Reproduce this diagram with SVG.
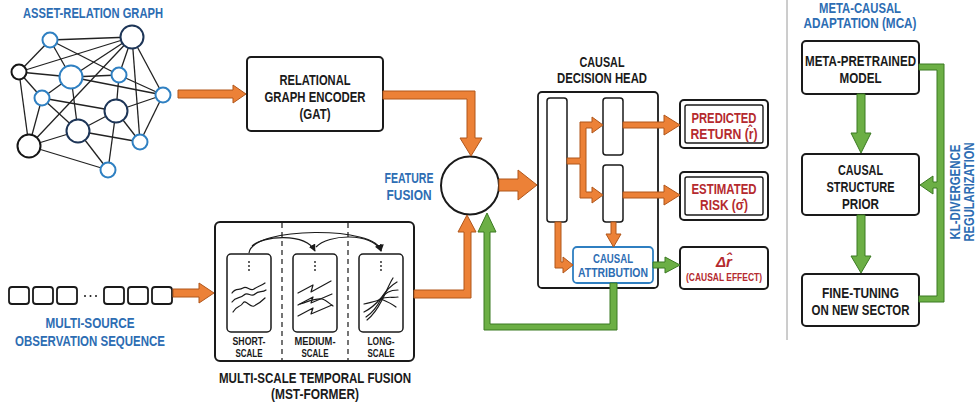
<svg xmlns="http://www.w3.org/2000/svg" width="980" height="409" viewBox="0 0 980 409">
<style>
.t{font-family:"Liberation Sans",Arial,sans-serif;font-weight:bold;text-anchor:middle;fill:#1a1a1a}
.blue{fill:#2d6db3}
.red{fill:#b52a2e}
.box{fill:#fff;stroke:#1a1a1a;stroke-width:2}
.thin{fill:#fff;stroke:#1a1a1a;stroke-width:1.5}
.or{fill:#ec8137;stroke:#b0561b;stroke-width:1;stroke-linejoin:round}
.gr{fill:#6caf45;stroke:#3b7a22;stroke-width:1;stroke-linejoin:round}
.edge{stroke:#222;stroke-width:1.3}
.nb{fill:#fff;stroke:#2f80c2;stroke-width:2}
.nk{fill:#fff;stroke:#151515;stroke-width:2}
.nn{fill:#fff;stroke:#1d3557;stroke-width:2}
.wave{fill:none;stroke:#1a1a1a;stroke-width:1.2;stroke-linecap:round;stroke-linejoin:round}
</style>
<defs>
<marker id="ah" viewBox="0 0 10 10" refX="9" refY="5" markerWidth="6" markerHeight="6" orient="auto">
<path d="M0,0 L10,5 L0,10 z" fill="#1a1a1a"/>
</marker>
</defs>
<rect width="980" height="409" fill="#fff"/>

<!-- Asset relation graph -->
<g id="asset-graph">
<text class="t blue" x="93" y="18" font-size="15" textLength="140" lengthAdjust="spacingAndGlyphs">ASSET-RELATION GRAPH</text>
<g class="edge">
<line x1="50" y1="40" x2="132" y2="37"/>
<line x1="50" y1="40" x2="19" y2="72"/>
<line x1="50" y1="40" x2="71" y2="77"/>
<line x1="50" y1="40" x2="119" y2="75"/>
<line x1="132" y1="37" x2="19" y2="72"/>
<line x1="132" y1="37" x2="119" y2="75"/>
<line x1="132" y1="37" x2="163" y2="95"/>
<line x1="132" y1="37" x2="140" y2="142"/>
<line x1="132" y1="37" x2="29" y2="146"/>
<line x1="132" y1="37" x2="71" y2="77"/>
<line x1="19" y1="72" x2="71" y2="77"/>
<line x1="19" y1="72" x2="42" y2="98"/>
<line x1="19" y1="72" x2="29" y2="146"/>
<line x1="71" y1="77" x2="119" y2="75"/>
<line x1="71" y1="77" x2="163" y2="95"/>
<line x1="71" y1="77" x2="42" y2="98"/>
<line x1="71" y1="77" x2="78" y2="131"/>
<line x1="119" y1="75" x2="163" y2="95"/>
<line x1="119" y1="75" x2="116" y2="111"/>
<line x1="42" y1="98" x2="116" y2="111"/>
<line x1="42" y1="98" x2="78" y2="131"/>
<line x1="42" y1="98" x2="29" y2="146"/>
<line x1="116" y1="111" x2="163" y2="95"/>
<line x1="116" y1="111" x2="78" y2="131"/>
<line x1="116" y1="111" x2="140" y2="142"/>
<line x1="116" y1="111" x2="108" y2="170"/>
<line x1="78" y1="131" x2="29" y2="146"/>
<line x1="78" y1="131" x2="140" y2="142"/>
<line x1="78" y1="131" x2="108" y2="170"/>
<line x1="29" y1="146" x2="108" y2="170"/>
<line x1="140" y1="142" x2="163" y2="95"/>
</g>
<circle class="nb" cx="50" cy="40" r="7.5"/>
<circle class="nn" cx="132" cy="37" r="11.5"/>
<circle class="nk" cx="19" cy="72" r="7.5"/>
<circle class="nb" cx="71" cy="77" r="11.5"/>
<circle class="nb" cx="119" cy="75" r="7.5"/>
<circle class="nb" cx="163" cy="95" r="7.5"/>
<circle class="nb" cx="42" cy="98" r="7.5"/>
<circle class="nn" cx="116" cy="111" r="11.5"/>
<circle class="nn" cx="78" cy="131" r="11.5"/>
<circle class="nk" cx="29" cy="146" r="11.5"/>
<circle class="nb" cx="140" cy="142" r="7.5"/>
<circle class="nb" cx="108" cy="170" r="7.5"/>
</g>

<!-- Relational graph encoder -->
<g id="encoder">
<rect class="box" x="247" y="57" width="136" height="74" rx="4"/>
<text class="t" x="315" y="85" font-size="15.5" textLength="71" lengthAdjust="spacingAndGlyphs">RELATIONAL</text>
<text class="t" x="315" y="102" font-size="15.5" textLength="101" lengthAdjust="spacingAndGlyphs">GRAPH ENCODER</text>
<text class="t" x="315" y="119" font-size="15.5" textLength="31" lengthAdjust="spacingAndGlyphs">(GAT)</text>
</g>

<!-- Observation sequence -->
<g id="sequence">
<g class="thin" style="stroke-width:1.8">
<rect x="9" y="287" width="20" height="17" rx="3"/>
<rect x="33" y="287" width="20" height="17" rx="3"/>
<rect x="57" y="287" width="20" height="17" rx="3"/>
<rect x="104" y="287" width="20" height="17" rx="3"/>
<rect x="128" y="287" width="20" height="17" rx="3"/>
<rect x="152" y="287" width="20" height="17" rx="3"/>
</g>
<g fill="#1a1a1a">
<circle cx="85" cy="296" r="1"/><circle cx="90.5" cy="296" r="1"/><circle cx="96" cy="296" r="1"/>
</g>
<text class="t blue" x="90" y="328" font-size="15" textLength="89" lengthAdjust="spacingAndGlyphs">MULTI-SOURCE</text>
<text class="t blue" x="90" y="346" font-size="15" textLength="150" lengthAdjust="spacingAndGlyphs">OBSERVATION SEQUENCE</text>
</g>

<!-- MST-Former -->
<g id="mst-former">
<rect class="box" x="215" y="222" width="199" height="139" rx="5"/>
<line x1="282" y1="223" x2="282" y2="360" stroke="#1a1a1a" stroke-width="1.2" stroke-dasharray="5,4"/>
<line x1="348" y1="223" x2="348" y2="360" stroke="#1a1a1a" stroke-width="1.2" stroke-dasharray="5,4"/>
<rect class="thin" x="227" y="254" width="44" height="78" rx="4"/>
<rect class="thin" x="293" y="254" width="44" height="78" rx="4"/>
<rect class="thin" x="359" y="254" width="44" height="78" rx="4"/>
<g fill="#1a1a1a">
<circle cx="249" cy="262" r="0.9"/><circle cx="249" cy="266" r="0.9"/><circle cx="249" cy="270" r="0.9"/>
<circle cx="315" cy="262" r="0.9"/><circle cx="315" cy="266" r="0.9"/><circle cx="315" cy="270" r="0.9"/>
<circle cx="381" cy="262" r="0.9"/><circle cx="381" cy="266" r="0.9"/><circle cx="381" cy="270" r="0.9"/>
</g>
<path class="wave" d="M232,293 C236,287 239,291 243,288 C247,285 250,292 254,289 C258,286 261,286 265,283"/>
<path class="wave" d="M232,302 C236,296 240,299 244,295 C248,291 251,298 255,294 C259,290 262,293 266,290"/>
<path class="wave" d="M233,312 C237,305 240,308 243,303 C246,299 250,308 254,306 C258,304 261,302 265,298"/>
<path class="wave" d="M298,293 L313,285 L311,292 L331,281"/>
<path class="wave" d="M298,305 L313,297 L311,303 L332,294"/>
<path class="wave" d="M298,316 L313,308 L311,314 L332,305"/>
<path class="wave" d="M300,304 C308,302 314,298 322,299 C326,300 330,304 333,306"/>
<path class="wave" d="M364,312 C372,308 376,304 381,298 C385,292 390,286 397,282"/>
<path class="wave" d="M366,317 C372,313 377,307 381,299 C385,292 392,290 398,290"/>
<path class="wave" d="M364,304 C370,302 376,302 381,299 C386,296 392,298 398,297"/>
<path class="wave" d="M367,320 C372,316 378,308 382,300 C386,293 389,284 393,278"/>
<path class="wave" d="M381,299 C386,301 392,304 396,307"/>
<path d="M249,253 C252,226 378,226 381,251" fill="none" stroke="#1a1a1a" stroke-width="1.2" marker-end="url(#ah)"/>
<path d="M252,246 C262,236 305,232 315,251" fill="none" stroke="#1a1a1a" stroke-width="1.2" marker-end="url(#ah)"/>
<path d="M316,247 C328,234 372,232 381,251" fill="none" stroke="#1a1a1a" stroke-width="1.2" marker-end="url(#ah)"/>
<text class="t" x="249" y="345" font-size="11.5" textLength="33" lengthAdjust="spacingAndGlyphs">SHORT-</text>
<text class="t" x="249" y="357" font-size="11.5" textLength="27" lengthAdjust="spacingAndGlyphs">SCALE</text>
<text class="t" x="315" y="345" font-size="11.5" textLength="41" lengthAdjust="spacingAndGlyphs">MEDIUM-</text>
<text class="t" x="315" y="357" font-size="11.5" textLength="27" lengthAdjust="spacingAndGlyphs">SCALE</text>
<text class="t" x="381" y="345" font-size="11.5" textLength="27" lengthAdjust="spacingAndGlyphs">LONG-</text>
<text class="t" x="381" y="357" font-size="11.5" textLength="27" lengthAdjust="spacingAndGlyphs">SCALE</text>
<text class="t" x="315" y="383" font-size="15.5" textLength="192" lengthAdjust="spacingAndGlyphs">MULTI-SCALE TEMPORAL FUSION</text>
<text class="t" x="315" y="399" font-size="15.5" textLength="88" lengthAdjust="spacingAndGlyphs">(MST-FORMER)</text>
</g>

<!-- Feature fusion -->
<g id="feature-fusion">
<circle cx="470" cy="185.5" r="29" fill="#fff" stroke="#1a1a1a" stroke-width="2"/>
<text class="t blue" x="409" y="183" font-size="15" textLength="49" lengthAdjust="spacingAndGlyphs">FEATURE</text>
<text class="t blue" x="409" y="200" font-size="15" textLength="45" lengthAdjust="spacingAndGlyphs">FUSION</text>
</g>

<!-- Causal decision head -->
<g id="decision-head">
<text class="t" x="602" y="67" font-size="15.5" textLength="45" lengthAdjust="spacingAndGlyphs">CAUSAL</text>
<text class="t" x="602" y="83" font-size="15.5" textLength="90" lengthAdjust="spacingAndGlyphs">DECISION HEAD</text>
<rect class="box" x="538" y="92" width="120" height="196" rx="4" style="stroke-width:1.8"/>
<rect class="thin" x="547" y="98" width="20" height="124" rx="3"/>
<rect class="thin" x="603" y="98" width="20" height="57" rx="3"/>
<rect class="thin" x="603" y="165" width="20" height="57" rx="3"/>
</g>

<g id="causal-attribution">
<rect x="573" y="247" width="80" height="36" rx="4" fill="#fff" stroke="#2f7fc1" stroke-width="1.8"/>
<text class="t blue" x="613" y="263" font-size="13.5" textLength="40" lengthAdjust="spacingAndGlyphs">CAUSAL</text>
<text class="t blue" x="613" y="277" font-size="13.5" textLength="70" lengthAdjust="spacingAndGlyphs">ATTRIBUTION</text>
</g>

<g id="predicted-return">
<rect class="box" x="680" y="100" width="88" height="48" rx="4"/>
<rect x="685" y="105" width="78" height="38" rx="2" fill="none" stroke="#1a1a1a" stroke-width="1.4"/>
<text class="t red" x="724" y="123" font-size="15" textLength="65" lengthAdjust="spacingAndGlyphs">PREDICTED</text>
<text class="t red" x="724" y="139" font-size="15" textLength="67" lengthAdjust="spacingAndGlyphs">RETURN (r̂)</text>
</g>

<g id="estimated-risk">
<rect class="box" x="680" y="172" width="88" height="48" rx="4"/>
<rect x="685" y="177" width="78" height="38" rx="2" fill="none" stroke="#1a1a1a" stroke-width="1.4"/>
<text class="t red" x="724" y="194" font-size="15" textLength="65" lengthAdjust="spacingAndGlyphs">ESTIMATED</text>
<text class="t red" x="724" y="210" font-size="15" textLength="48" lengthAdjust="spacingAndGlyphs">RISK (σ̂)</text>
</g>

<g id="causal-effect">
<rect class="box" x="680" y="247" width="88" height="42" rx="4"/>
<text class="t red" x="724" y="267" font-size="15" font-weight="normal" font-style="italic">Δr̂</text>
<text class="t red" x="724" y="281" font-size="11" font-weight="normal" textLength="76" lengthAdjust="spacingAndGlyphs">(CAUSAL EFFECT)</text>
</g>

<!-- divider -->
<line x1="787" y1="0" x2="787" y2="340" stroke="#9a9a9a" stroke-width="1"/>

<!-- MCA -->
<g id="mca-title">
<text class="t blue" x="860" y="12.5" font-size="15" textLength="82" lengthAdjust="spacingAndGlyphs">META-CAUSAL</text>
<text class="t blue" x="860" y="28" font-size="15" textLength="113" lengthAdjust="spacingAndGlyphs">ADAPTATION (MCA)</text>
</g>
<g id="meta-pretrained">
<rect class="box" x="802" y="41" width="117" height="53" rx="4"/>
<text class="t" x="860.5" y="66" font-size="15.5" textLength="111" lengthAdjust="spacingAndGlyphs">META-PRETRAINED</text>
<text class="t" x="860.5" y="83" font-size="15.5" textLength="42" lengthAdjust="spacingAndGlyphs">MODEL</text>
</g>
<g id="causal-prior">
<rect class="box" x="802" y="154" width="117" height="61" rx="4"/>
<text class="t" x="860.5" y="175" font-size="15.5" textLength="45" lengthAdjust="spacingAndGlyphs">CAUSAL</text>
<text class="t" x="860.5" y="192" font-size="15.5" textLength="68" lengthAdjust="spacingAndGlyphs">STRUCTURE</text>
<text class="t" x="860.5" y="209" font-size="15.5" textLength="37" lengthAdjust="spacingAndGlyphs">PRIOR</text>
</g>
<g id="fine-tuning">
<rect class="box" x="802" y="274" width="117" height="52" rx="4"/>
<text class="t" x="860.5" y="298" font-size="15.5" textLength="77" lengthAdjust="spacingAndGlyphs">FINE-TUNING</text>
<text class="t" x="860.5" y="315" font-size="15.5" textLength="98" lengthAdjust="spacingAndGlyphs">ON NEW SECTOR</text>
</g>
<g id="kl-label">
<text class="t blue" font-size="15" transform="translate(960,192) rotate(-90)" textLength="95" lengthAdjust="spacingAndGlyphs">KL-DIVERGENCE</text>
<text class="t blue" font-size="15" transform="translate(974,192) rotate(-90)" textLength="99" lengthAdjust="spacingAndGlyphs">REGULARIZATION</text>
</g>

<!-- Connectors -->
<g id="connectors">
<polygon class="or" points="178,90 233,90 233,85 246,94 233,103 233,98 178,98"/>
<polygon class="or" points="383,91 475,91 475,138 482,138 471,156 460,138 467,138 467,99 383,99"/>
<polygon class="or" points="173,289 199,289 199,283 214,293 199,303 199,297 173,297"/>
<polygon class="or" points="414,290 464,290 464,232 458,232 467,215 476,232 471,232 471,298 414,298"/>
<polygon class="or" points="499,179 518,179 518,170 537,185 518,200 518,191 499,191"/>
<polygon class="or" points="567,158 580,158 580,122 592,122 592,117 603,125 592,133 592,128 586,128 586,192 592,192 592,187 603,195 592,203 592,198 580,198 580,164 567,164"/>
<polygon class="or" points="555,222 561,222 561,262 563,262 563,257 573,265 563,273 563,268 555,268"/>
<polygon class="or" points="611,222 616,222 616,234 621,234 613.5,247 606,234 611,234"/>
<polygon class="or" points="623,122 664,122 664,115 680,125 664,135 664,128 623,128"/>
<polygon class="or" points="623,192 664,192 664,185 680,195 664,205 664,198 623,198"/>
<polygon class="gr" points="653,262 665,262 665,257 680,265 665,273 665,268 653,268"/>
<polygon class="gr" points="610,283 617,283 617,330 484,330 484,232 478,232 487,213 496,232 490,232 490,324 610,324"/>
<polygon class="gr" points="857,94 865,94 865,133 871,133 861,153 851,133 857,133"/>
<polygon class="gr" points="857,215 865,215 865,256 871,256 861,273 851,256 857,256"/>
<polygon class="gr" points="919,64 944,64 944,302 919,302 919,296 937,296 937,188 933,188 933,194 920,185 933,176 933,182 937,182 937,70 919,70"/>
</g>
</svg>
